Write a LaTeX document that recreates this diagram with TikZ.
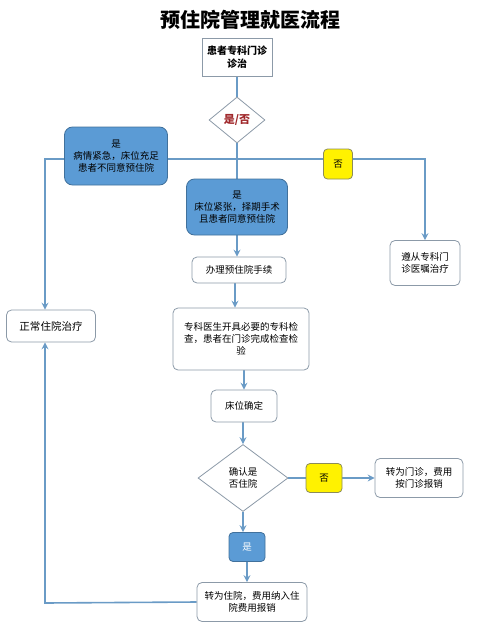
\documentclass[tikz,border=0pt]{standalone}
\usepackage{fontspec}
\setmainfont{Noto Sans CJK SC}
\usepackage{tikz}
\usepackage{xcolor}
\usetikzlibrary{shapes}
\usetikzlibrary{backgrounds}
\usetikzlibrary{positioning, arrows.meta}

\definecolor{linkblue}{HTML}{6A9BC6}
\definecolor{boxblue}{HTML}{5B9BD5}
\definecolor{boxblueedge}{HTML}{41719C}
\definecolor{boxgray}{HTML}{8C9AA8}
\definecolor{noyellow}{HTML}{FFF200}
\definecolor{noedge}{HTML}{8C8C5A}
\definecolor{yesred}{HTML}{A0282B}

\begin{document}
\begin{tikzpicture}[x=1pt, y=-1pt, >={Stealth[length=7pt, width=7pt, inset=2.5pt]}, % Arrow tip style
    font=\fontsize{9.5}{12}\selectfont,
    plainbox/.style={draw=boxgray, line width=0.8pt, fill=white, rounded corners=5pt, align=center, inner sep=0pt},
    bluebox/.style={draw=boxblueedge, line width=0.8pt, fill=boxblue, rounded corners=8pt, align=center, inner sep=0pt},
    nobox/.style={draw=noedge, line width=0.8pt, fill=noyellow, rounded corners=4pt, align=center, inner sep=0pt},
    choice/.style={draw=boxgray, line width=0.8pt, fill=white, diamond, aspect=1.2, align=center, inner sep=0pt},
    link/.style={draw=linkblue, line width=1.6pt}]
                        \useasboundingbox (0,0) rectangle (500,642);

                        % Title
                        \node[font=\fontsize{20}{24}\selectfont\bfseries] (title) at (250,20) {预住院管理就医流程};

                        % Main column, top part
                        \node[draw=boxgray, line width=0.8pt, fill=white, align=center, minimum width=70pt, minimum height=38pt, font=\fontsize{10}{13}\selectfont\bfseries] (clinic) at (237,57) {患者专科门诊\\诊治};
                        \node[choice, minimum width=56pt, minimum height=46pt, text=yesred, font=\fontsize{11}{13}\selectfont\bfseries] (ask) at (237,120) {是/否};
                        \node[bluebox, minimum width=103pt, minimum height=58pt] (urgent) at (116,156) {是\\病情紧急，床位充足\\患者不同意预住院};
                        \node[nobox, minimum width=29pt, minimum height=30pt] (noA) at (338,164) {否};
                        \node[bluebox, minimum width=101pt, minimum height=56pt] (tight) at (237,207) {是\\床位紧张，择期手术\\且患者同意预住院};
                        \node[plainbox, minimum width=70pt, minimum height=45pt] (follow) at (425,263) {遵从专科门\\诊医嘱治疗};
                        \node[plainbox, minimum width=94pt, minimum height=26pt] (apply) at (239,270) {办理预住院手续};
                        \node[plainbox, minimum width=89pt, minimum height=32pt, font=\fontsize{10.5}{13}\selectfont] (normal) at (51,326) {正常住院治疗};
                        \node[plainbox, minimum width=136pt, minimum height=62pt] (check) at (241,339) {专科医生开具必要的专科检\\查，患者在门诊完成检查检\\验};
                        \node[plainbox, minimum width=66pt, minimum height=32pt] (bed) at (244,406) {床位确定};

                        % Confirm step
                        \node[choice, minimum width=90pt, minimum height=67pt] (confirm) at (243,478) {确认是\\否住院};
                        \node[nobox, minimum width=36pt, minimum height=29pt] (noB) at (324,478) {否};
                        \node[plainbox, minimum width=88pt, minimum height=39pt] (outpat) at (419,478) {转为门诊，费用\\按门诊报销};
                        \node[bluebox, rounded corners=4pt, minimum width=36pt, minimum height=29pt, text=white] (yesB) at (247,547) {是};
                        \node[plainbox, minimum width=110pt, minimum height=39pt] (inpat) at (252,602) {转为住院，费用纳入住\\院费用报销};

                        % Connectors go behind the boxes
                        \coordinate (split) at (237,159);
                        \coordinate (leftTop) at (45,159);
                        \coordinate (leftBot) at (45,603);
                        \begin{scope}[on background layer]
                        \draw[link] (clinic) -- (ask);
                        \draw[link] (ask) -- (split);
                        \draw[link] (split) -- (tight);
                        \draw[link, ->] (split) -- (leftTop) -- (leftTop |- normal.north);
                        \draw[link, ->] (split) -| (follow.north);
                        \draw[link, ->] (tight.south) -- (tight.south |- apply.north);
                        \draw[link, ->] (apply.south -| 235,0) -- (check.north -| 235,0);
                        \draw[link, ->] (check.south -| bed) -- (bed.north);
                        \draw[link, ->] (bed.south -| confirm) -- (confirm.north);
                        \draw[link] (confirm) -- (noB);
                        \draw[link, ->] (noB) -- (outpat.west);
                        \draw[link, ->] (confirm.south) -- (confirm.south |- yesB.north);
                        \draw[link, ->] (yesB.south) -- (yesB.south |- inpat.north);
                        \draw[link, ->] (inpat.west) -- (leftBot) -- (leftBot |- normal.south);
                        \end{scope}

                    \end{tikzpicture}
\end{document}
